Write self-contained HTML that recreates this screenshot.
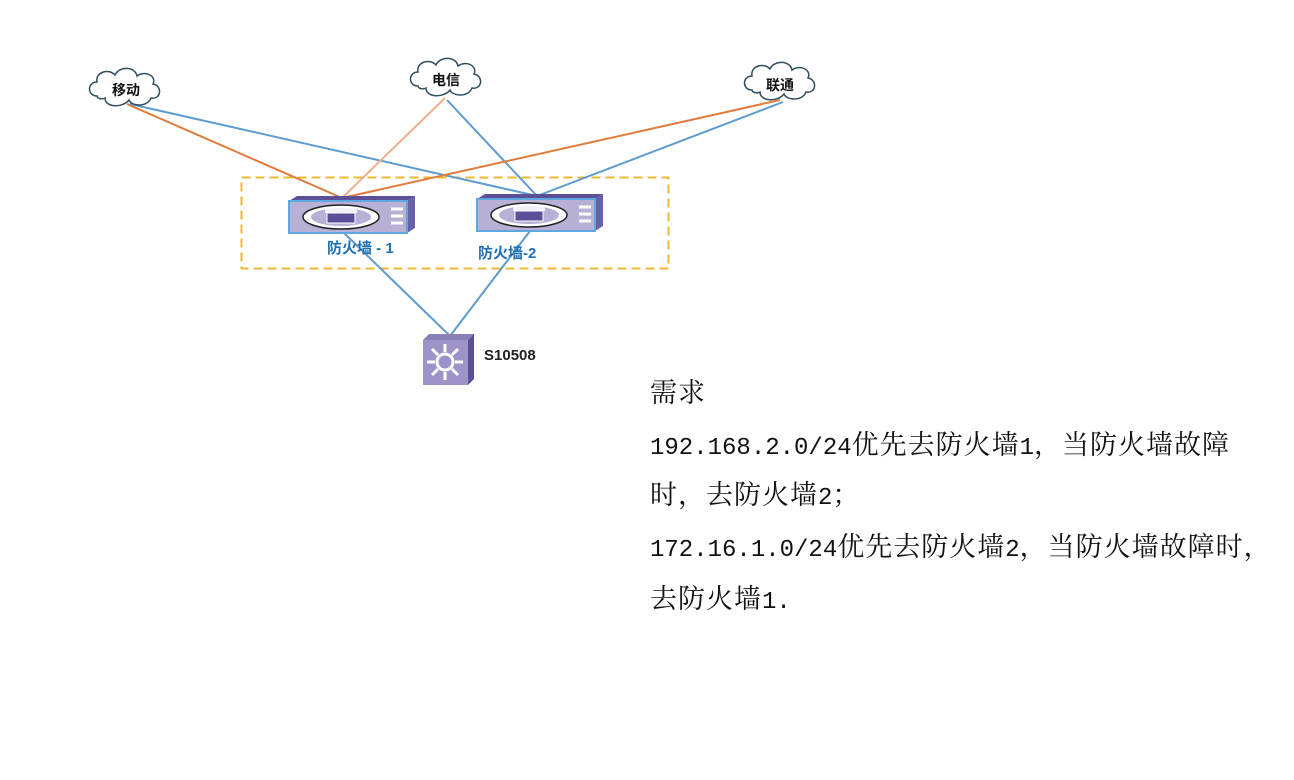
<!DOCTYPE html>
<html><head><meta charset="utf-8"><style>
html,body{margin:0;padding:0;background:#fff;width:1294px;height:780px;overflow:hidden;position:relative}
.t{position:absolute;left:650px;font-family:"Liberation Mono","Noto Serif CJK SC",monospace;font-size:24px;color:#111;white-space:nowrap;line-height:30px}
.c{font-family:"Noto Serif CJK SC",serif;font-size:27px;letter-spacing:1px}
</style></head><body>
<svg width="1294" height="780" style="position:absolute;left:0;top:0" font-family="Liberation Sans,Noto Sans CJK SC,sans-serif">
<defs>
<g id="cloud"><path d="M-28,8 C-38,8 -38,-6 -28,-6 C-30,-16 -16,-20 -10,-13 C-6,-22 10,-22 12,-12 C20,-18 32,-12 28,-4 C38,-2 36,12 26,10 C22,20 6,18 4,12 C-2,20 -20,20 -20,10 C-24,12 -28,10 -28,8 Z" fill="#fff" stroke="#2f4f5f" stroke-width="1.5"/></g>
<g id="fw">
<polygon points="0,5 8,0 126,0 118,5" fill="#5b4f98"/>
<polygon points="118,5 126,0 126,32 118,37" fill="#6a5fa8"/>
<rect x="0" y="5" width="118" height="32" fill="#b9b0d6" stroke="#5ea7e0" stroke-width="2"/>
<ellipse cx="52" cy="21" rx="38" ry="12" fill="#fff" stroke="#222" stroke-width="1.5"/>
<ellipse cx="52" cy="21" rx="30" ry="9" fill="#b9b0d6"/>
<rect x="38" y="17" width="28" height="10" fill="#5b4f98" stroke="#fff" stroke-width="1"/>
<rect x="36" y="12" width="32" height="5" fill="#fff" opacity=".8"/>
<path d="M102,13 h12 M102,20 h12 M102,27 h12" stroke="#fff" stroke-width="3"/>
</g>
</defs>
<rect x="241.5" y="177.5" width="427" height="91" fill="none" stroke="#f0b830" stroke-width="2" stroke-dasharray="9,5"/>
<g stroke-width="2" fill="none">
<line x1="127" y1="104" x2="342" y2="198" stroke="#e07b3c"/>
<line x1="130" y1="104" x2="537" y2="196" stroke="#5e9bd0"/>
<line x1="445" y1="98" x2="342" y2="198" stroke="#f0b08a"/>
<line x1="447" y1="100" x2="537" y2="196" stroke="#5e9bd0"/>
<line x1="780" y1="100" x2="342" y2="198" stroke="#e07b3c"/>
<line x1="783" y1="102" x2="537" y2="196" stroke="#5e9bd0"/>
<line x1="343" y1="232" x2="450" y2="336" stroke="#5e9bd0"/>
<line x1="530" y1="231" x2="450" y2="336" stroke="#5e9bd0"/>
</g>
<use href="#cloud" x="125" y="88"/>
<use href="#cloud" x="446" y="78"/>
<use href="#cloud" x="780" y="82"/>
<text x="126" y="95" font-size="14" font-weight="bold" text-anchor="middle" fill="#111">移动</text>
<text x="446" y="85" font-size="14" font-weight="bold" text-anchor="middle" fill="#111">电信</text>
<text x="780" y="90" font-size="14" font-weight="bold" text-anchor="middle" fill="#111">联通</text>
<use href="#fw" x="289" y="196"/>
<use href="#fw" x="477" y="194"/>
<text x="327" y="253" font-size="15" font-weight="bold" fill="#1f6fb5">防火墙 - 1</text>
<text x="478" y="258" font-size="15" font-weight="bold" fill="#1f6fb5">防火墙-2</text>
<g transform="translate(423,334)">
<polygon points="0,6 6,0 51,0 45,6" fill="#8a80b8"/>
<polygon points="45,6 51,0 51,45 45,51" fill="#5b4f98"/>
<rect x="0" y="6" width="45" height="45" fill="#9d93c8"/>
<circle cx="22" cy="28" r="8" fill="none" stroke="#fff" stroke-width="3"/>
<g stroke="#fff" stroke-width="3"><path d="M22,10v8M22,38v8M4,28h8M32,28h8M9,15l6,6M35,15l-6,6M9,41l6-6M35,41l-6-6"/></g>
</g>
<text x="484" y="360" font-size="15" font-weight="bold" fill="#222">S10508</text>
</svg>
<div class="t" style="top:376px"><span class="c">需求</span></div>
<div class="t" style="top:428px">192.168.2.0/24<span class="c">优先去防火墙</span>1<span class="c">，当防火墙故障</span></div>
<div class="t" style="top:478px"><span class="c">时，去防火墙</span>2<span class="c">；</span></div>
<div class="t" style="top:530px">172.16.1.0/24<span class="c">优先去防火墙</span>2<span class="c">，当防火墙故障时，</span></div>
<div class="t" style="top:582px"><span class="c">去防火墙</span>1.</div>
</body></html>
